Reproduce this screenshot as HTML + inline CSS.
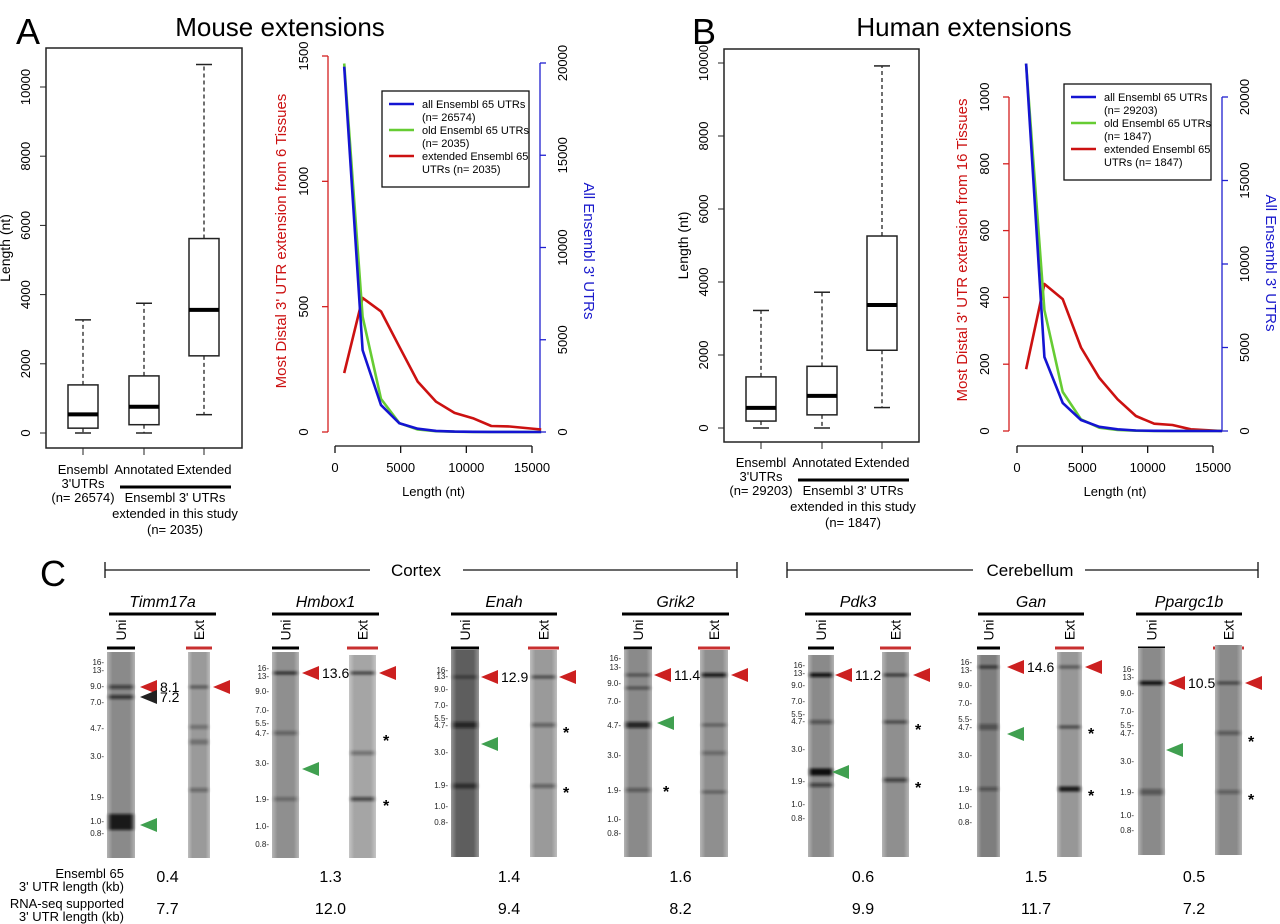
<!DOCTYPE html>
<html><head><meta charset="utf-8">
<style>
html,body{margin:0;padding:0;background:#fff;}
svg{display:block;font-family:"Liberation Sans",Arial,sans-serif;}
</style></head>
<body>
<svg id="fig" width="1280" height="924" viewBox="0 0 1280 924" xmlns="http://www.w3.org/2000/svg">
<defs>
<filter id="blur1" x="-20%" y="-200%" width="140%" height="500%"><feGaussianBlur stdDeviation="1.3"/></filter>
<linearGradient id="laneG" x1="0" x2="1" y1="0" y2="0">
<stop offset="0" stop-color="#fff" stop-opacity="0.35"/><stop offset="0.2" stop-color="#fff" stop-opacity="0"/>
<stop offset="0.8" stop-color="#fff" stop-opacity="0"/><stop offset="1" stop-color="#fff" stop-opacity="0.35"/></linearGradient>
</defs>
<rect x="0" y="0" width="1280" height="924" fill="#fff"/>
<text x="16" y="44" font-size="36">A</text>
<text x="280" y="36" font-size="26" text-anchor="middle">Mouse extensions</text>
<text x="692" y="44" font-size="36">B</text>
<text x="964" y="36" font-size="26" text-anchor="middle">Human extensions</text>
<g id="root"></g>
</svg>
<script>
// ---------- data ----------
const boxCats = ["Ensembl 3'UTRs", "Annotated", "Extended"];
const mouseQ1 = [140, 240, 2230];
const mouseMed = [540, 760, 3560];
const mouseQ3 = [1390, 1650, 5620];
const mouseLo = [0, 0, 530];
const mouseHi = [3270, 3750, 10650];
const humanQ1 = [190, 360, 2130];
const humanMed = [550, 880, 3370];
const humanQ3 = [1400, 1690, 5260];
const humanLo = [0, 0, 560];
const humanHi = [3220, 3720, 9920];
const boxTicks = [0, 2000, 4000, 6000, 8000, 10000];

const lenX = [700, 2100, 3500, 4900, 6300, 7700, 9100, 10500, 11900, 13300, 15700];
const mouseAll = [19800, 4440, 1460, 470, 180, 60, 20, 10, 5, 3, 0];
const mouseOld = [1470, 460, 132, 35, 10, 3, 1, 0, 0, 0, 0];
const mouseExt = [235, 535, 481, 340, 201, 121, 76, 55, 24, 22, 10];
const humanAll = [22000, 4430, 1680, 660, 250, 100, 30, 10, 5, 0, 0];
const humanOld = [1100, 362, 117, 35, 10, 3, 1, 0, 0, 0, 0];
const humanExt = [185, 440, 395, 250, 159, 95, 45, 22, 18, 5, 0];
const xTicks = [0, 5000, 10000, 15000];
const mouseLeftTicks = [0, 500, 1000, 1500];
const humanLeftTicks = [0, 200, 400, 600, 800, 1000];
const rightTicks = [0, 5000, 10000, 15000, 20000];

const NS = "http://www.w3.org/2000/svg";
const root = document.getElementById('root');
function mk(tag, attrs, parent, txt) {
  const e = document.createElementNS(NS, tag);
  for (const k in attrs) e.setAttribute(k, attrs[k]);
  if (txt !== undefined) e.textContent = txt;
  (parent || root).appendChild(e);
  return e;
}
function scale(d0, d1, r0, r1) { return v => r0 + (v - d0) * (r1 - r0) / (d1 - d0); }

// ---------- box plots ----------
function boxPlot(cfg) {
  const g = mk('g', {});
  
  
  const y = scale(0, 10000, cfg.y0, cfg.y10k);
  const fr = mk('rect', {x: cfg.fx0, y: cfg.fy0, width: cfg.fx1 - cfg.fx0, height: cfg.fy1 - cfg.fy0, fill: 'none', stroke: '#222', 'stroke-width': 1.5}, g);
  
  
  boxTicks.forEach(t => {
    const tk = mk('line', {x1: cfg.fx0 - 6, x2: cfg.fx0, y1: y(t), y2: y(t), stroke: '#222', 'stroke-width': 1}, g);
    
    
    const tl = mk('text', {x: cfg.fx0 - 16, y: y(t), 'font-size': 13, 'text-anchor': 'middle', transform: `rotate(-90 ${cfg.fx0 - 16} ${y(t)})`}, g, String(t));
    
    
  });
  const yl = mk('text', {x: cfg.fx0 - 36, y: (cfg.fy0 + cfg.fy1) / 2, 'font-size': 14, 'text-anchor': 'middle', transform: `rotate(-90 ${cfg.fx0 - 36} ${(cfg.fy0 + cfg.fy1) / 2})`}, g, 'Length (nt)');
  
  
  boxCats.forEach((c, i) => {
    const cx = cfg.cx[i], hw = 15;
    const bg = mk('g', {}, g);
    
    
    mk('line', {x1: cx, x2: cx, y1: y(cfg.q3[i]), y2: y(cfg.hi[i]), stroke: '#222', 'stroke-dasharray': '4 3', 'stroke-width': 1.3}, bg);
    mk('line', {x1: cx, x2: cx, y1: y(cfg.q1[i]), y2: y(cfg.lo[i]), stroke: '#222', 'stroke-dasharray': '4 3', 'stroke-width': 1.3}, bg);
    mk('line', {x1: cx - 8, x2: cx + 8, y1: y(cfg.hi[i]), y2: y(cfg.hi[i]), stroke: '#222', 'stroke-width': 1.5}, bg);
    mk('line', {x1: cx - 8, x2: cx + 8, y1: y(cfg.lo[i]), y2: y(cfg.lo[i]), stroke: '#222', 'stroke-width': 1.5}, bg);
    mk('rect', {x: cx - hw, y: y(cfg.q3[i]), width: 2 * hw, height: y(cfg.q1[i]) - y(cfg.q3[i]), fill: '#fff', stroke: '#222', 'stroke-width': 1.5}, bg);
    mk('line', {x1: cx - hw, x2: cx + hw, y1: y(cfg.med[i]), y2: y(cfg.med[i]), stroke: '#000', 'stroke-width': 4}, bg);
    mk('line', {x1: cx, x2: cx, y1: cfg.fy1, y2: cfg.fy1 + 7, stroke: '#222', 'stroke-width': 1}, bg);
  });
  const L = cfg.labY;
  const t = (x, yy, s, n) => { const e = mk('text', {x: x, y: yy, 'font-size': 13, 'text-anchor': 'middle'}, g, s);   };
  t(cfg.cx[0], L, 'Ensembl', 'x-label-ensembl');
  t(cfg.cx[0], L + 14, "3'UTRs", 'x-label-ensembl');
  t(cfg.cx[0], L + 28, cfg.nAll, 'x-label-ensembl-n');
  t(cfg.cx[1], L, 'Annotated', 'x-label-annotated');
  t(cfg.cx[2], L, 'Extended', 'x-label-extended');
  const br = mk('line', {x1: cfg.cx[1] - 24, x2: cfg.cx[2] + 27, y1: L + 13, y2: L + 13, stroke: '#000', 'stroke-width': 3}, g);
  
  
  const mid = (cfg.cx[1] + cfg.cx[2]) / 2 + 1;
  t(mid, L + 28, "Ensembl 3' UTRs", 'group-label');
  t(mid, L + 44, 'extended in this study', 'group-label');
  t(mid, L + 60, cfg.nExt, 'group-label-n');
}
boxPlot({name: 'mouse-boxplot', fx0: 46, fx1: 242, fy0: 48, fy1: 448, y0: 433, y10k: 87, cx: [83, 144, 204],
  q1: mouseQ1, med: mouseMed, q3: mouseQ3, lo: mouseLo, hi: mouseHi, labY: 474, nAll: '(n= 26574)', nExt: '(n= 2035)'});
boxPlot({name: 'human-boxplot', fx0: 724, fx1: 919, fy0: 49, fy1: 442, y0: 428, y10k: 63, cx: [761, 822, 882],
  q1: humanQ1, med: humanMed, q3: humanQ3, lo: humanLo, hi: humanHi, labY: 467, nAll: '(n= 29203)', nExt: '(n= 1847)'});

// ---------- line charts ----------
function lineChart(cfg) {
  const g = mk('g', {});
  
  
  const x = scale(0, 15000, cfg.x0, cfg.x15k);
  const yl = scale(0, cfg.leftMax, cfg.yBase, cfg.yLeftTop);
  const yr = scale(0, 20000, cfg.yBase, cfg.yRightTop);
  const xa = mk('line', {x1: x(0), x2: x(15000), y1: cfg.xAxisY, y2: cfg.xAxisY, stroke: '#111', 'stroke-width': 1.3}, g);
  
  
  xTicks.forEach(t => {
    const tk = mk('line', {x1: x(t), x2: x(t), y1: cfg.xAxisY, y2: cfg.xAxisY + 7, stroke: '#111', 'stroke-width': 1.3}, g);
    
    
    const tl = mk('text', {x: x(t), y: cfg.xAxisY + 26, 'font-size': 13, 'text-anchor': 'middle'}, g, String(t));
    
    
  });
  const xt = mk('text', {x: (x(0) + x(15000)) / 2, y: cfg.xAxisY + 50, 'font-size': 13, 'text-anchor': 'middle'}, g, 'Length (nt)');
  
  
  const la = mk('line', {x1: cfg.lx, x2: cfg.lx, y1: yl(0), y2: yl(cfg.leftTicks[cfg.leftTicks.length - 1]), stroke: '#d42020', 'stroke-width': 1.3}, g);
  
  
  cfg.leftTicks.forEach(t => {
    const tk = mk('line', {x1: cfg.lx - 6, x2: cfg.lx, y1: yl(t), y2: yl(t), stroke: '#d42020', 'stroke-width': 1.3}, g);
    
    
    const tx = cfg.lx - 20;
    const tl = mk('text', {x: tx, y: yl(t), 'font-size': 13, 'text-anchor': 'middle', transform: `rotate(-90 ${tx} ${yl(t)})`}, g, String(t));
    
    
  });
  const lt = mk('text', {x: cfg.lx - 42, y: cfg.leftTitleY, 'font-size': 15, fill: '#cc1111', 'text-anchor': 'middle', transform: `rotate(-90 ${cfg.lx - 42} ${cfg.leftTitleY})`}, g, cfg.leftTitle);
  
  
  const ra = mk('line', {x1: cfg.rx, x2: cfg.rx, y1: yr(0), y2: yr(20000), stroke: '#2020d0', 'stroke-width': 1.3}, g);
  
  
  rightTicks.forEach(t => {
    const tk = mk('line', {x1: cfg.rx, x2: cfg.rx + 6, y1: yr(t), y2: yr(t), stroke: '#2020d0', 'stroke-width': 1.3}, g);
    
    
    const tx = cfg.rx + 27;
    const tl = mk('text', {x: tx, y: yr(t), 'font-size': 13, 'text-anchor': 'middle', transform: `rotate(-90 ${tx} ${yr(t)})`}, g, String(t));
    
    
  });
  const rt = mk('text', {x: cfg.rx + 44, y: cfg.rightTitleY, 'font-size': 15, fill: '#1a1acc', 'text-anchor': 'middle', transform: `rotate(90 ${cfg.rx + 44} ${cfg.rightTitleY})`}, g, "All Ensembl 3' UTRs");
  
  
  const pts = (vals, ys) => vals.map((v, i) => x(lenX[i]).toFixed(1) + ',' + ys(v).toFixed(1)).join(' ');
  const sExt = mk('polyline', {points: pts(cfg.ext, yl), fill: 'none', stroke: '#cc1111', 'stroke-width': 2.6, 'stroke-linejoin': 'round'}, g);
  
  
  const sOld = mk('polyline', {points: pts(cfg.old, yl), fill: 'none', stroke: '#66cc33', 'stroke-width': 2.6, 'stroke-linejoin': 'round'}, g);
  
  
  const sAll = mk('polyline', {points: pts(cfg.all, yr), fill: 'none', stroke: '#1414d2', 'stroke-width': 2.6, 'stroke-linejoin': 'round'}, g);
  
  
  const lg = mk('g', {}, g);
  
  
  mk('rect', {x: cfg.lgx, y: cfg.lgy, width: 147, height: 96, fill: '#fff', stroke: '#111', 'stroke-width': 1.3}, lg);
  const entries = [['#1414d2', 'all Ensembl 65 UTRs', cfg.nAll], ['#66cc33', 'old Ensembl 65 UTRs', cfg.nOld], ['#cc1111', 'extended Ensembl 65', 'UTRs ' + cfg.nOld]];
  entries.forEach((en, i) => {
    const yy = cfg.lgy + 17 + i * 26;
    const eg = mk('g', {}, lg);
    
    
    mk('line', {x1: cfg.lgx + 7, x2: cfg.lgx + 32, y1: yy - 4, y2: yy - 4, stroke: en[0], 'stroke-width': 2.6}, eg);
    mk('text', {x: cfg.lgx + 40, y: yy, 'font-size': 11}, eg, en[1]);
    mk('text', {x: cfg.lgx + 40, y: yy + 13, 'font-size': 11}, eg, en[2]);
  });
}
lineChart({name: 'mouse-distribution-chart', x0: 335, x15k: 532, xAxisY: 446, lx: 328, rx: 540, yBase: 432, yLeftTop: 56, yRightTop: 63,
  leftMax: 1500, leftTicks: mouseLeftTicks, leftTitle: "Most Distal 3' UTR extension from 6 Tissues", leftTitleY: 241, rightTitleY: 251,
  all: mouseAll, old: mouseOld, ext: mouseExt, lgx: 382, lgy: 91, nAll: '(n= 26574)', nOld: '(n= 2035)'});
lineChart({name: 'human-distribution-chart', x0: 1017, x15k: 1213, xAxisY: 446, lx: 1009, rx: 1222, yBase: 431, yLeftTop: 97, yRightTop: 97,
  leftMax: 1000, leftTicks: humanLeftTicks, leftTitle: "Most Distal 3' UTR extension from 16 Tissues", leftTitleY: 250, rightTitleY: 263,
  all: humanAll, old: humanOld, ext: humanExt, lgx: 1064, lgy: 84, nAll: '(n= 29203)', nOld: '(n= 1847)'});

// ---------- panel C ----------
const gc = mk('g', {});


const cl = mk('text', {x: 40, y: 586, 'font-size': 36}, gc, 'C');


function bracket(x1, x2, y, name) {
  const e = mk('g', {}, gc);
  
  
  mk('line', {x1: x1, x2: x2, y1: y, y2: y, stroke: '#111', 'stroke-width': 1.2}, e);
}
bracket(105, 370, 570, 'cortex-line-left');
bracket(463, 737, 570, 'cortex-line-right');
mk('line', {x1: 105, x2: 105, y1: 562, y2: 578, stroke: '#111', 'stroke-width': 1.3}, gc);
mk('line', {x1: 737, x2: 737, y1: 562, y2: 578, stroke: '#111', 'stroke-width': 1.3}, gc);
const ct = mk('text', {x: 416, y: 576, 'font-size': 17, 'text-anchor': 'middle'}, gc, 'Cortex');


bracket(787, 973, 570, 'cerebellum-line-left');
bracket(1085, 1258, 570, 'cerebellum-line-right');
mk('line', {x1: 787, x2: 787, y1: 562, y2: 578, stroke: '#111', 'stroke-width': 1.3}, gc);
mk('line', {x1: 1258, x2: 1258, y1: 562, y2: 578, stroke: '#111', 'stroke-width': 1.3}, gc);
const cb = mk('text', {x: 1030, y: 576, 'font-size': 17, 'text-anchor': 'middle'}, gc, 'Cerebellum');



function tri(x, y, color, parent) {
  mk('polygon', {points: `${x},${y} ${x + 17},${y - 7} ${x + 17},${y + 7}`, fill: color}, parent);
}
const markerNames = ['16-', '13-', '9.0-', '7.0-', '5.5-', '4.7-', '3.0-', '1.9-', '1.0-', '0.8-'];
const blots = [
  {gene: 'Timm17a', b0: 109, b1: 216, uni: [107, 135, 652, 858, '#8a8a8a'], ext: [188, 210, 652, 858, '#9a9a9a'], mx: 104,
   marks: [662, 670, 686, 702, null, 728, 756, 797, 821, 833],
   ub: [[687, 0.6, 4], [697, 0.7, 4], [822, 0.9, 16]], eb: [[687, 0.5, 3], [727, 0.3, 4], [742, 0.3, 5], [790, 0.35, 4]],
   arrows: [[140, 687, '#cc2020', '8.1'], [140, 697, '#222', '7.2'], [140, 825, '#40a050', null], [213, 687, '#cc2020', null]], stars: [],
   v1: '0.4', v2: '7.7'},
  {gene: 'Hmbox1', b0: 272, b1: 379, uni: [272, 299, 652, 858, '#8f8f8f'], ext: [349, 376, 655, 858, '#a5a5a5'], mx: 269,
   marks: [668, 676, 691, 710, 723, 733, 763, 799, 826, 844],
   ub: [[673, 0.8, 3], [733, 0.35, 4], [799, 0.3, 4]], eb: [[673, 0.7, 3], [753, 0.35, 4], [799, 0.6, 4]],
   arrows: [[302, 673, '#cc2020', '13.6'], [302, 769, '#40a050', null], [379, 673, '#cc2020', null]], stars: [[383, 738], [383, 803]],
   v1: '1.3', v2: '12.0'},
  {gene: 'Enah', b0: 451, b1: 557, uni: [451, 479, 650, 857, '#5e5e5e'], ext: [530, 557, 650, 857, '#9a9a9a'], mx: 448,
   marks: [670, 676, 689, 705, 718, 725, 752, 785, 806, 822],
   ub: [[677, 0.5, 3], [725, 0.7, 6], [786, 0.6, 5]], eb: [[677, 0.6, 3], [725, 0.4, 4], [786, 0.4, 4]],
   arrows: [[481, 677, '#cc2020', '12.9'], [481, 744, '#40a050', null], [559, 677, '#cc2020', null]], stars: [[563, 730], [563, 790]],
   v1: '1.4', v2: '9.4'},
  {gene: 'Grik2', b0: 622, b1: 729, uni: [624, 652, 650, 857, '#8a8a8a'], ext: [700, 728, 650, 857, '#8f8f8f'], mx: 621,
   marks: [658, 667, 683, 701, null, 725, 755, 790, 819, 833],
   ub: [[675, 0.5, 3], [688, 0.5, 3], [725, 0.8, 6], [790, 0.4, 4]], eb: [[675, 0.9, 4], [725, 0.4, 3], [753, 0.3, 4], [792, 0.4, 3]],
   arrows: [[654, 675, '#cc2020', '11.4'], [657, 723, '#40a050', null], [731, 675, '#cc2020', null]], stars: [[663, 789]],
   v1: '1.6', v2: '8.2'},
  {gene: 'Pdk3', b0: 805, b1: 911, uni: [808, 834, 655, 857, '#8a8a8a'], ext: [882, 909, 652, 857, '#8f8f8f'], mx: 805,
   marks: [665, 673, 685, 701, 714, 721, 749, 781, 804, 818],
   ub: [[675, 1, 4], [722, 0.45, 4], [772, 1, 7], [785, 0.6, 4]], eb: [[675, 0.7, 3], [722, 0.6, 3], [780, 0.6, 4]],
   arrows: [[835, 675, '#cc2020', '11.2'], [832, 772, '#40a050', null], [913, 675, '#cc2020', null]], stars: [[915, 727], [915, 785]],
   v1: '0.6', v2: '9.9'},
  {gene: 'Gan', b0: 978, b1: 1084, uni: [977, 1000, 655, 857, '#7e7e7e'], ext: [1057, 1082, 652, 857, '#979797'], mx: 972,
   marks: [662, 670, 685, 703, 719, 727, 755, 789, 806, 822],
   ub: [[667, 0.7, 3], [727, 0.4, 6], [789, 0.4, 4]], eb: [[667, 0.5, 3], [727, 0.6, 3], [789, 0.9, 5]],
   arrows: [[1007, 667, '#cc2020', '14.6'], [1007, 734, '#40a050', null], [1085, 667, '#cc2020', null]], stars: [[1088, 731], [1088, 793]],
   v1: '1.5', v2: '11.7'},
  {gene: 'Ppargc1b', b0: 1136, b1: 1242, uni: [1138, 1165, 648, 855, '#8a8a8a'], ext: [1215, 1242, 645, 855, '#8a8a8a'], mx: 1134,
   marks: [669, 677, 693, 711, 725, 733, 761, 792, 815, 830],
   ub: [[683, 1, 4], [792, 0.4, 6]], eb: [[683, 0.6, 3], [733, 0.4, 4], [792, 0.35, 4]],
   arrows: [[1168, 683, '#cc2020', '10.5'], [1166, 750, '#40a050', null], [1245, 683, '#cc2020', null]], stars: [[1248, 739], [1248, 797]],
   v1: '0.5', v2: '7.2'}
];
function lane(l, bands, parent, name) {
  const lg = mk('g', {}, parent);
  
  
  mk('rect', {x: l[0], y: l[2], width: l[1] - l[0], height: l[3] - l[2], fill: l[4]}, lg);
  bands.forEach(b => mk('rect', {x: l[0] + 1, y: b[0] - b[2] / 2, width: l[1] - l[0] - 2, height: b[2], fill: '#111', opacity: b[1], filter: 'url(#blur1)'}, lg));
  mk('rect', {x: l[0], y: l[2], width: l[1] - l[0], height: l[3] - l[2], fill: 'url(#laneG)'}, lg);
}
blots.forEach(b => {
  const g = mk('g', {}, gc);
  
  
  const cx = (b.b0 + b.b1) / 2;
  const gt = mk('text', {x: cx, y: 607, 'font-size': 16, 'font-style': 'italic', 'text-anchor': 'middle'}, g, b.gene);
  
  
  mk('line', {x1: b.b0, x2: b.b1, y1: 614, y2: 614, stroke: '#000', 'stroke-width': 3}, g);
  const ux = (b.uni[0] + b.uni[1]) / 2 + 5, ex = (b.ext[0] + b.ext[1]) / 2 + 5;
  const tu = mk('text', {x: ux, y: 630, 'font-size': 14, 'text-anchor': 'middle', transform: `rotate(-90 ${ux} 630)`}, g, 'Uni');
  
  
  const te = mk('text', {x: ex, y: 630, 'font-size': 14, 'text-anchor': 'middle', transform: `rotate(-90 ${ex} 630)`}, g, 'Ext');
  
  
  mk('line', {x1: b.uni[0], x2: b.uni[1], y1: 648, y2: 648, stroke: '#000', 'stroke-width': 3}, g);
  mk('line', {x1: b.ext[0] - 2, x2: b.ext[1] + 2, y1: 648, y2: 648, stroke: '#c83030', 'stroke-width': 3}, g);
  lane(b.uni, b.ub, g, 'uni-lane');
  lane(b.ext, b.eb, g, 'ext-lane');
  b.marks.forEach((m, i) => {
    if (m === null) return;
    mk('text', {x: b.mx, y: m + 3, 'font-size': 8, 'text-anchor': 'end', fill: '#222'}, g, markerNames[i]);
  });
  b.arrows.forEach(a => {
    tri(a[0], a[1], a[2], g);
    if (a[3]) mk('text', {x: a[0] + 20, y: a[1] + 5, 'font-size': 14}, g, a[3]);
  });
  b.stars.forEach(s => mk('text', {x: s[0], y: s[1] + 8, 'font-size': 16, 'font-weight': 'bold'}, g, '*'));
  const nv1 = mk('text', {x: cx + 5, y: 882, 'font-size': 16, 'text-anchor': 'middle'}, g, b.v1);
  
  
  const nv2 = mk('text', {x: cx + 5, y: 914, 'font-size': 16, 'text-anchor': 'middle'}, g, b.v2);
  
  
});
[['Ensembl 65', 878], ["3' UTR length (kb)", 891], ['RNA-seq supported', 908], ["3' UTR length (kb)", 921]].forEach(r => {
  const e = mk('text', {x: 124, y: r[1], 'font-size': 13, 'text-anchor': 'end'}, gc, r[0]);
  
  
});
</script>
</body></html>
